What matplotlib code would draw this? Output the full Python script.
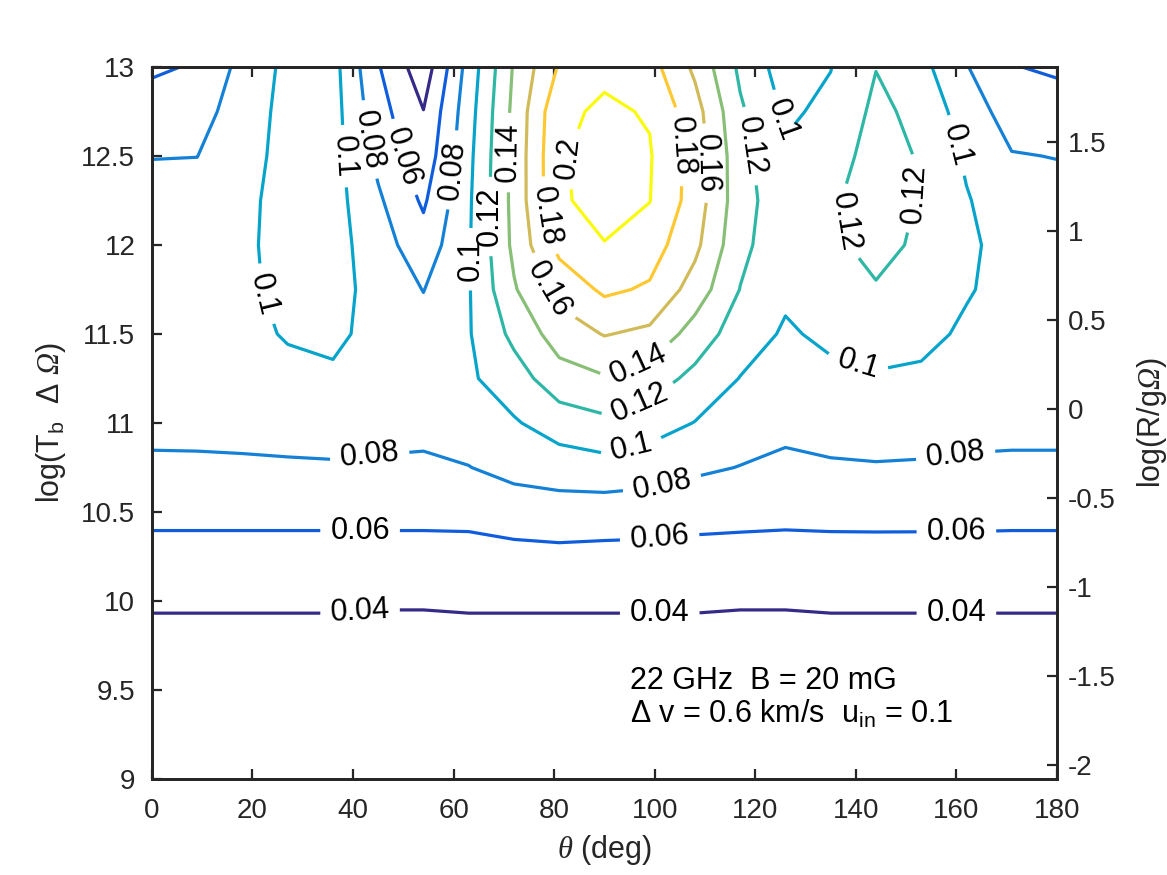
import numpy as np
import matplotlib
matplotlib.use("Agg")
import matplotlib.pyplot as plt

plt.rcParams['font.family'] = ['Liberation Sans', 'DejaVu Sans']
plt.rcParams['mathtext.fontset'] = 'custom'
plt.rcParams['mathtext.rm'] = 'Liberation Sans'
plt.rcParams['mathtext.it'] = 'Liberation Sans:italic'
plt.rcParams['mathtext.cal'] = 'Liberation Serif:italic'
plt.rcParams['axes.unicode_minus'] = False

# ---------------- data ----------------
theta_deg = [0, 9, 18, 27, 36, 45, 54, 63, 72, 81, 90,
             99, 108, 117, 126, 135, 144, 153, 162, 171, 180]
log_tb_omega = [9.0, 9.25, 9.5, 9.75, 10.0, 10.25, 10.5, 10.75, 11.0,
                11.25, 11.5, 11.75, 12.0, 12.25, 12.5, 12.75, 13.0]

# polarization fraction grid: one row per log(Tb dOmega), one column per theta
z_rows = [
    [0.010, 0.010, 0.010, 0.010, 0.010, 0.010, 0.010, 0.010, 0.010, 0.010, 0.010,
     0.010, 0.010, 0.010, 0.010, 0.010, 0.010, 0.010, 0.010, 0.010, 0.010],
    [0.017, 0.017, 0.017, 0.017, 0.017, 0.017, 0.017, 0.017, 0.017, 0.017, 0.017,
     0.017, 0.017, 0.017, 0.017, 0.017, 0.017, 0.017, 0.017, 0.017, 0.017],
    [0.024, 0.024, 0.024, 0.024, 0.024, 0.024, 0.024, 0.024, 0.024, 0.024, 0.024,
     0.024, 0.024, 0.024, 0.024, 0.024, 0.024, 0.024, 0.024, 0.024, 0.024],
    [0.032, 0.032, 0.032, 0.032, 0.032, 0.032, 0.032, 0.032, 0.032, 0.032, 0.032,
     0.032, 0.032, 0.032, 0.032, 0.032, 0.032, 0.032, 0.032, 0.032, 0.032],
    [0.043, 0.043, 0.043, 0.043, 0.043, 0.042, 0.042, 0.043, 0.043, 0.043, 0.043,
     0.043, 0.043, 0.042, 0.042, 0.043, 0.043, 0.043, 0.043, 0.043, 0.043],
    [0.053, 0.053, 0.053, 0.053, 0.053, 0.053, 0.053, 0.053, 0.055, 0.055, 0.0544,
     0.0535, 0.0525, 0.053, 0.053, 0.053, 0.053, 0.053, 0.053, 0.053, 0.053],
    [0.065, 0.065, 0.065, 0.065, 0.065, 0.065, 0.065, 0.0655, 0.068, 0.0711, 0.070,
     0.070, 0.0679, 0.0658, 0.0647, 0.0655, 0.0657, 0.0656, 0.0655, 0.065, 0.065],
    [0.0765, 0.0765, 0.0768, 0.0775, 0.078, 0.0772, 0.0765, 0.0795, 0.087, 0.0896, 0.0927,
     0.0887, 0.0832, 0.0795, 0.0763, 0.078, 0.0787, 0.0782, 0.0776, 0.0765, 0.0765],
    [0.0855, 0.086, 0.087, 0.088, 0.089, 0.087, 0.086, 0.090, 0.098, 0.1096, 0.1155,
     0.1092, 0.0994, 0.0894, 0.0845, 0.0871, 0.0886, 0.0877, 0.0849, 0.0855, 0.0855],
    [0.090, 0.091, 0.092, 0.095, 0.097, 0.092, 0.089, 0.097, 0.111, 0.1316, 0.1382,
     0.130, 0.1145, 0.0994, 0.0911, 0.0956, 0.0981, 0.0968, 0.091, 0.0905, 0.090],
    [0.092, 0.094, 0.095, 0.1015, 0.104, 0.094, 0.087, 0.0985, 0.125, 0.1495, 0.161,
     0.1556, 0.1314, 0.1098, 0.0976, 0.104, 0.1082, 0.105, 0.0971, 0.093, 0.092],
    [0.092, 0.094, 0.097, 0.104, 0.107, 0.093, 0.0795, 0.0985, 0.138, 0.1667, 0.1836,
     0.1775, 0.1513, 0.1195, 0.1035, 0.110, 0.1184, 0.112, 0.1015, 0.094, 0.092],
    [0.090, 0.092, 0.097, 0.1055, 0.108, 0.089, 0.068, 0.098, 0.1445, 0.186, 0.1995,
     0.1894, 0.165, 0.125, 0.107, 0.116, 0.126, 0.1165, 0.1035, 0.093, 0.090],
    [0.086, 0.087, 0.096, 0.106, 0.108, 0.083, 0.057, 0.097, 0.146, 0.198, 0.205,
     0.2005, 0.171, 0.128, 0.1075, 0.118, 0.1265, 0.119, 0.1015, 0.088, 0.086],
    [0.0795, 0.0798, 0.093, 0.106, 0.108, 0.075, 0.047, 0.095, 0.146, 0.1985, 0.206,
     0.2015, 0.172, 0.127, 0.1025, 0.112, 0.127, 0.1185, 0.097, 0.081, 0.0795],
    [0.072, 0.072, 0.090, 0.106, 0.108, 0.068, 0.0405, 0.092, 0.145, 0.196, 0.203,
     0.1985, 0.168, 0.123, 0.097, 0.104, 0.1245, 0.1145, 0.090, 0.0715, 0.072],
    [0.056, 0.0625, 0.086, 0.105, 0.107, 0.0615, 0.028, 0.088, 0.142, 0.182, 0.196,
     0.188, 0.156, 0.116, 0.090, 0.0995, 0.1195, 0.106, 0.081, 0.0612, 0.056],
]

contour_levels = [0.04, 0.06, 0.08, 0.10, 0.12, 0.14, 0.16, 0.18, 0.20]
level_colors = ['#352a87', '#0f5cdd', '#1481d6', '#06a4ca', '#2eb7a4',
                '#87bf77', '#d1bb59', '#fec832', '#f9fb0e']

# approximate label anchor points (theta, logT)
label_positions = [
    (21.9, 11.72), (38.7, 12.50), (42.7, 12.59), (48.7, 12.48),
    (60.3, 12.42), (63.6, 11.92), (66.2, 12.16), (69.8, 12.52),
    (83.7, 12.49), (77.8, 12.16), (77.8, 11.73), (104.4, 12.55),
    (110.4, 12.46), (117.9, 12.55), (97.0, 11.30), (97.0, 11.11),
    (95.5, 10.85), (101.6, 10.64), (101.0, 10.35), (101.0, 9.94),
    (160.0, 10.79), (160.0, 10.38), (160.0, 9.94),
    (43.4, 10.79), (41.4, 10.38), (41.4, 9.94),
    (124.9, 12.70), (136.2, 12.12), (153.3, 12.29), (160.1, 12.56),
    (140.2, 11.31),
]

x_ticks = [0, 20, 40, 60, 80, 100, 120, 140, 160, 180]
y_ticks = [9, 9.5, 10, 10.5, 11, 11.5, 12, 12.5, 13]
y_tick_labels = ['9', '9.5', '10', '10.5', '11', '11.5', '12', '12.5', '13']
right_ticks = [-2, -1.5, -1, -0.5, 0, 0.5, 1, 1.5]
right_tick_labels = ['-2', '-1.5', '-1', '-0.5', '0', '0.5', '1', '1.5']
right_offset = 11.08   # log(R/gOmega) = log(Tb dOmega) - offset

annotation_line1 = '22 GHz  B = 20 mG'
annotation_line2 = 'Δ v = 0.6 km/s  u$_{\\rm in}$ = 0.1'

# ---------------- plot ----------------
axis_color = '#262626'
fs_tick = 20
fs_text = 22

fig = plt.figure(figsize=(11.67, 8.75), dpi=100)
ax = fig.add_axes([0.1302, 0.1097, 0.7755, 0.8137])

Z = np.array(z_rows)
cs = ax.contour(theta_deg, log_tb_omega, Z, levels=contour_levels,
                colors=level_colors, linewidths=2.3)
ax.clabel(cs, inline=True, fontsize=fs_text, colors='k',
          fmt=lambda v: f'{v:g}', manual=label_positions, inline_spacing=10)

ax.set_xlim(0, 180)
ax.set_ylim(9, 13)
ax.set_xticks(x_ticks)
ax.set_xticklabels([str(t) for t in x_ticks])
ax.set_yticks(y_ticks)
ax.set_yticklabels(y_tick_labels)
ax.tick_params(axis='both', direction='in', length=7, width=1.6,
               color=axis_color, labelcolor=axis_color, labelsize=fs_tick)
ax.tick_params(axis='x', top=True, bottom=True, pad=14)
ax.tick_params(axis='y', left=True, right=False, pad=12)
for s in ax.spines.values():
    s.set_color(axis_color)
    s.set_linewidth(2.0)

ax2 = ax.twinx()
ax2.set_ylim(9 - right_offset, 13 - right_offset)
ax2.set_yticks(right_ticks)
ax2.set_yticklabels(right_tick_labels)
ax2.tick_params(axis='y', direction='in', length=7, width=1.6,
                color=axis_color, labelcolor=axis_color, labelsize=fs_tick, pad=8)
for s in ax2.spines.values():
    s.set_color(axis_color)
    s.set_linewidth(2.0)

ax.set_xlabel('$\\mathcal{θ}$ (deg)', fontsize=fs_text, color=axis_color)
ax.xaxis.set_label_coords(0.5, -0.076)
ax.set_ylabel('log(T$_{\\rm b}$  Δ $\\mathcal{Ω}$)', fontsize=fs_text, color=axis_color)
ax.yaxis.set_label_coords(-0.093, 0.5)
ax2.set_ylabel('log(R/g$\\mathcal{Ω}$)', fontsize=fs_text, color=axis_color)
ax2.yaxis.set_label_coords(1.086, 0.5)

ax.text(95.1, 9.506, annotation_line1, fontsize=fs_text, color='k', va='baseline', ha='left')
ax.text(95.1, 9.315, annotation_line2, fontsize=fs_text, color='k', va='baseline', ha='left')

fig.savefig('out.png', dpi=100)
